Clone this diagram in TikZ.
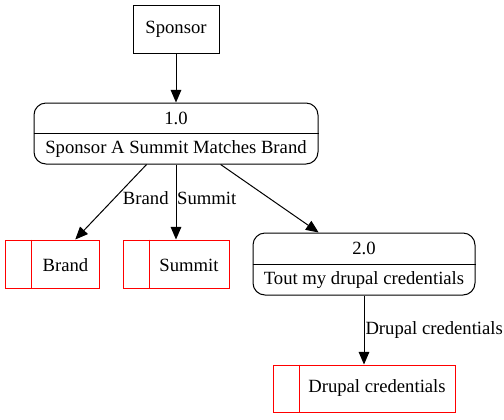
\documentclass[tikz,border=0pt]{standalone}
\usepackage{fontspec}
\setmainfont{Liberation Serif}
\usetikzlibrary{arrows.meta}
\begin{document}
\begin{tikzpicture}[
  x=0.75pt, y=-0.75pt,
  entity/.style={rectangle, draw, line width=0.75pt, minimum width=64.5pt, minimum height=36pt},
  process/.style={rectangle, draw, line width=0.75pt, rounded corners=9pt},
  store/.style={rectangle, draw=red, line width=0.75pt, minimum height=36pt},
  txt/.style={inner sep=0pt},
  flow/.style={-{Triangle[length=9.5pt,width=8pt]}, line width=0.75pt},
  font=\rmfamily\fontsize{14}{17}\selectfont
]
\useasboundingbox (0,0) rectangle (504,419);

\node[entity] (sponsor) at (176,29) {Sponsor};

% processes
\node[process, minimum width=213pt, minimum height=45.75pt] (p1) at (176,133.5) {};
\draw[line width=0.75pt] (p1.west) -- (p1.east);
\node[txt] (p1id) at (176,118) {1.0};
\node[txt] (p1name) at (176,149) {Sponsor A Summit Matches Brand};

\node[process, minimum width=166.5pt, minimum height=46.5pt] (p2) at (364,264) {};
\draw[line width=0.75pt] (p2.west) -- (p2.east);
\node[txt] (p2id) at (364,248) {2.0};
\node[txt] (p2name) at (364,280) {Tout my drupal credentials};

% data stores
\node[store, minimum width=70.5pt] (brand) at (52,264) {};
\draw[red, line width=0.75pt] ([xshift=20.25pt]brand.north west) -- ([xshift=20.25pt]brand.south west);
\node[txt] (brandtxt) at (65.5,265) {Brand};

\node[store, minimum width=79.5pt] (summit) at (176,264) {};
\draw[red, line width=0.75pt] ([xshift=20.25pt]summit.north west) -- ([xshift=20.25pt]summit.south west);
\node[txt] (summittxt) at (189,265) {Summit};

\node[store, minimum width=136.5pt, minimum height=35.25pt] (drupal) at (364,388.5) {};
\draw[red, line width=0.75pt] ([xshift=20.25pt]drupal.north west) -- ([xshift=20.25pt]drupal.south west);
\node[txt] (drupaltxt) at (377,388) {Drupal credentials};

% flows
\draw[flow] (sponsor) -- (p1);
\draw[flow] (p1) -- node[txt, pos=0.45, anchor=west, xshift=6pt] {Brand} (brand);
\draw[flow] (p1) -- node[txt, pos=0.45, anchor=west, xshift=0.5pt] {Summit} (summit);
\draw[flow] (p1) -- (p2);
\draw[flow] (p2) -- node[txt, anchor=west, xshift=0.75pt] {Drupal credentials} (drupal);
\end{tikzpicture}
\end{document}
